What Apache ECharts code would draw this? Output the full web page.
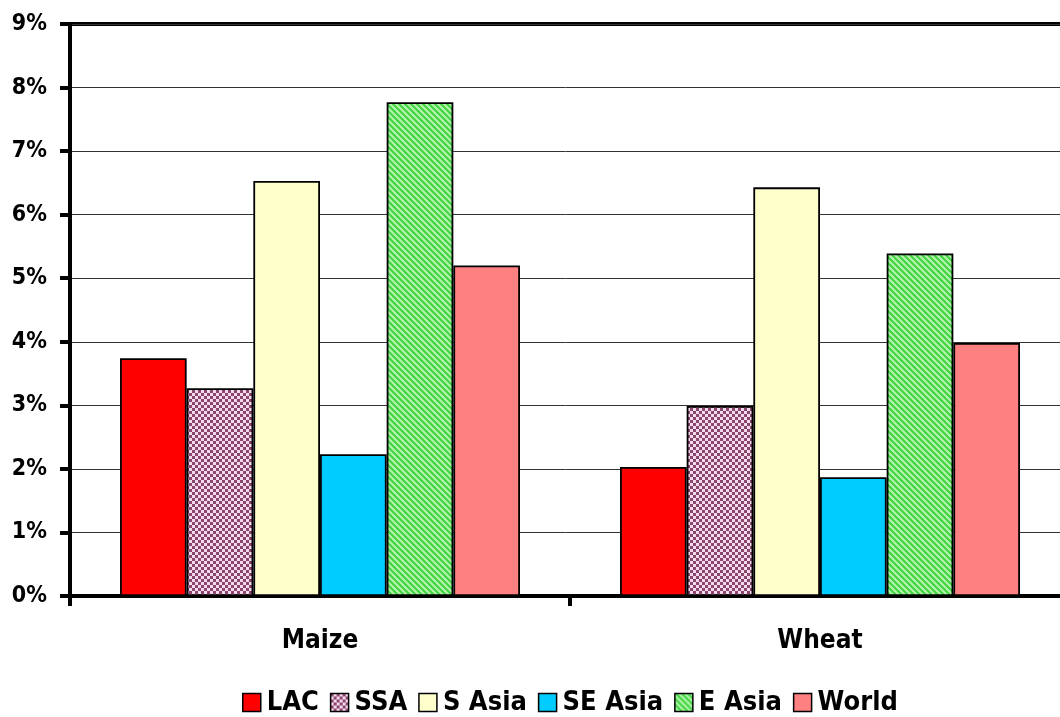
<!DOCTYPE html>
<html>
<head>
<meta charset="utf-8">
<script src="https://cdn.jsdelivr.net/npm/echarts@6/dist/echarts.min.js"></script>
<style>
  html, body { margin: 0; padding: 0; background: #fff; }
  #chart { width: 1060px; height: 717px; }
</style>
</head>
<body>
<div id="chart"></div>
<script>
// Growth rates by region, percent
const categories = ['Maize', 'Wheat'];
const seriesNames = ['LAC', 'SSA', 'S Asia', 'SE Asia', 'E Asia', 'World'];
const lac = [3.74, 2.03];
const ssa = [3.27, 2.99];
const sAsia = [6.53, 6.43];
const seAsia = [2.23, 1.87];
const eAsia = [7.77, 5.39];
const world = [5.20, 3.98];
const yTicks = [0, 1, 2, 3, 4, 5, 6, 7, 8, 9];

const FONT = '"DejaVu Sans Condensed", "DejaVu Sans", sans-serif';

// small checkerboard fill
function checkerPattern() {
  const s = 3;
  const c = document.createElement('canvas');
  c.width = 2 * s; c.height = 2 * s;
  const g = c.getContext('2d');
  g.fillStyle = '#f2dcea';
  g.fillRect(0, 0, 2 * s, 2 * s);
  g.fillStyle = '#8e4470';
  g.fillRect(0, 0, s, s);
  g.fillRect(s, s, s, s);
  return { image: c, repeat: 'repeat' };
}

// diagonal stripe fill
function stripePattern() {
  const n = 6;
  const c = document.createElement('canvas');
  c.width = n; c.height = n;
  const g = c.getContext('2d');
  const img = g.createImageData(n, n);
  for (let y = 0; y < n; y++) {
    for (let x = 0; x < n; x++) {
      const d = (x - y + n) % n;
      const dark = d < 3;
      const i = (y * n + x) * 4;
      img.data[i] = dark ? 0x48 : 0xac;
      img.data[i + 1] = dark ? 0xd6 : 0xf2;
      img.data[i + 2] = dark ? 0x48 : 0xa6;
      img.data[i + 3] = 255;
    }
  }
  g.putImageData(img, 0, 0);
  return { image: c, repeat: 'repeat' };
}

const fills = ['#ff0000', checkerPattern(), '#ffffcc', '#00ccff', stripePattern(), '#ff8080'];
const values = [lac, ssa, sAsia, seAsia, eAsia, world];

const chart = echarts.init(document.getElementById('chart'), null, { renderer: 'canvas' });

chart.setOption({
  animation: false,
  backgroundColor: '#ffffff',
  grid: {
    left: 70, right: -10, top: 24, bottom: 121,
    outerBoundsMode: 'none',
    containLabel: false,
    show: true, borderColor: '#000', borderWidth: 4, backgroundColor: 'transparent'
  },
  legend: {
    bottom: -4,
    left: 237,
    itemWidth: 18,
    itemHeight: 18,
    itemGap: 11,
    icon: 'rect',
    textStyle: { fontFamily: FONT, fontWeight: 'bold', fontSize: 27, color: '#000', padding: [0, 0, 0, 1] },
    itemStyle: { borderColor: '#000', borderWidth: 1.5 },
    data: seriesNames
  },
  xAxis: {
    type: 'category',
    data: categories,
    axisLine: { lineStyle: { color: '#000', width: 4 } },
    axisTick: { show: true, length: 10, lineStyle: { color: '#000', width: 4 } },
    axisLabel: { fontFamily: FONT, fontWeight: 'bold', fontSize: 26, color: '#000', margin: 32 }
  },
  yAxis: {
    type: 'value',
    min: yTicks[0],
    max: yTicks[yTicks.length - 1],
    interval: 1,
    axisLine: { show: true, lineStyle: { color: '#000', width: 4 } },
    axisTick: { show: true, length: 10, lineStyle: { color: '#000', width: 4 } },
    axisLabel: { formatter: '{value}%', fontFamily: FONT, fontWeight: 'bold', fontSize: 23, color: '#000', margin: 23 },
    splitLine: { show: true, lineStyle: { color: '#333', width: 1 } }
  },
  series: seriesNames.map((name, i) => ({
    name,
    type: 'bar',
    data: values[i],
    barGap: '0%',
    barCategoryGap: '20%',
    itemStyle: { color: fills[i], borderColor: '#000', borderWidth: 1.8 }
  }))
});
</script>
</body>
</html>
